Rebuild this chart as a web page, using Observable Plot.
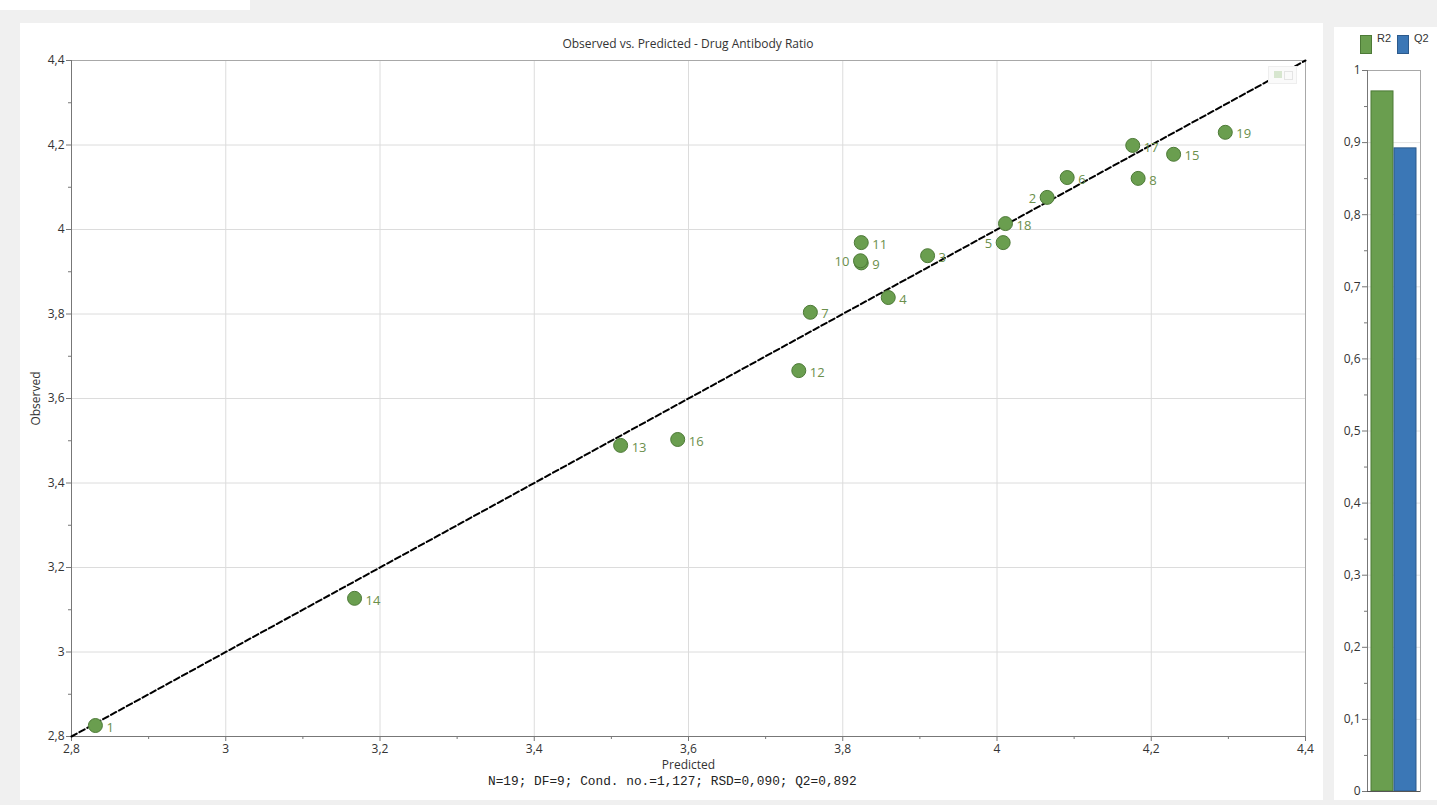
<!DOCTYPE html>
<html><head><meta charset="utf-8">
<script src="https://cdn.jsdelivr.net/npm/d3@7"></script>
<script src="https://cdn.jsdelivr.net/npm/@observablehq/plot@0.6"></script>
<style>
body{margin:0;background:#f0f0f0;width:1437px;height:805px;position:relative;overflow:hidden;font-family:"Open Sans",sans-serif;}
#topstrip{position:absolute;left:0;top:0;width:250px;height:10px;background:#fff}
#left{position:absolute;left:20px;top:23px;width:1303px;height:777px;background:#fff}
#right{position:absolute;left:1334px;top:27px;width:103px;height:773px;background:#fff}
#title{position:absolute;left:51px;width:1234px;top:13px;text-align:center;font-size:12px;color:#333;line-height:16px}
#main{position:absolute;left:0;top:24px}
#caption{position:absolute;left:468px;top:752px;font-family:"Liberation Mono",monospace;font-size:12.8px;color:#222;line-height:14px;white-space:pre}
#icon{position:absolute;left:1248px;top:43px;width:27px;height:16px;border:1px solid #eee;background:#fafafa}
#icon i{position:absolute;left:5px;top:4px;width:8px;height:7px;background:#d7e6cf}
#icon b{position:absolute;left:15px;top:4px;width:7px;height:7px;border:1px solid #e4e4e4}
#legend{position:absolute;top:8px;left:0;width:103px;height:20px;font-size:11px;color:#333}
.sw{position:absolute;top:0;width:10px;height:17px;border:1px solid}
.lt{position:absolute;top:-3px;font-family:"Liberation Sans",sans-serif}
#bars{position:absolute;left:0;top:33px}
</style></head>
<body>
<div id="topstrip"></div>
<div id="left">
  <div id="title"></div>
  <div id="main"></div>
  <div id="icon"><i></i><b></b></div>
  <div id="caption"></div>
</div>
<div id="right">
  <div id="legend"></div>
  <div id="bars"></div>
</div>
<script>
// ---- data ----
const obsNum    = [1, 2, 3, 4, 5, 6, 7, 8, 9, 10, 11, 12, 13, 14, 15, 16, 17, 18, 19];
const predicted = [2.831, 4.065, 3.910, 3.859, 4.008, 4.091, 3.758, 4.183, 3.824, 3.823, 3.824, 3.743, 3.512, 3.167, 4.229, 3.586, 4.176, 4.011, 4.296];
const observed  = [2.826, 4.076, 3.938, 3.839, 3.969, 4.123, 3.804, 4.121, 3.921, 3.926, 3.969, 3.666, 3.489, 3.127, 4.178, 3.503, 4.199, 4.014, 4.230];
const leftLabelObs = [2, 5, 10];
const refLine = [2.8, 4.4];
const xTicks = [2.8, 3, 3.2, 3.4, 3.6, 3.8, 4, 4.2, 4.4];
const xMinor = [2.9, 3.1, 3.3, 3.5, 3.7, 3.9, 4.1, 4.3];
const yTicks = [2.8, 3, 3.2, 3.4, 3.6, 3.8, 4, 4.2, 4.4];
const yMinor = [2.9, 3.1, 3.3, 3.5, 3.7, 3.9, 4.1, 4.3];
const statNames  = ["R2", "Q2"];
const statValues = [0.971, 0.892];
const statTicks = [0, 0.1, 0.2, 0.3, 0.4, 0.5, 0.6, 0.7, 0.8, 0.9, 1];
const statMinor = [0.05, 0.15, 0.25, 0.35, 0.45, 0.55, 0.65, 0.75, 0.85, 0.95];
const titleText = "Observed vs. Predicted - Drug Antibody Ratio";
const xLabel = "Predicted";
const yLabel = "Observed";
const captionText = "N=19; DF=9; Cond. no.=1,127; RSD=0,090; Q2=0,892";

// ---- colours ----
const green = "#6a9e4f", greenDark = "#4d7a37", labelGreen = "#6b8f4c";
const blue = "#3b77b6", blueDark = "#2c5a8c";
const comma = d => String(d).replace(".", ",");

document.getElementById("title").textContent = titleText;
document.getElementById("caption").textContent = captionText;

const pts = obsNum.map((n, i) => ({n, x: predicted[i], y: observed[i], left: leftLabelObs.includes(n)}));
const line = refLine.map(v => ({x: v, y: v}));

const main = Plot.plot({
  width: 1303, height: 731,
  marginTop: 13, marginBottom: 42, marginLeft: 51, marginRight: 18,
  style: {fontFamily: "Open Sans, sans-serif", fontSize: "12px", color: "#333", background: "transparent"},
  x: {domain: [2.8, 4.4]},
  y: {domain: [2.8, 4.4]},
  marks: [
    Plot.gridX(xTicks, {stroke: "#dcdcdc", strokeOpacity: 1}),
    Plot.gridY(yTicks, {stroke: "#dcdcdc", strokeOpacity: 1}),
    Plot.frame({stroke: "#a8a8a8"}),
    Plot.axisX(xMinor, {tickSize: 3, text: null, stroke: "#777", label: null}),
    Plot.axisY(yMinor, {tickSize: 3, text: null, stroke: "#777", label: null}),
    Plot.axisX(xTicks, {tickSize: 5, tickPadding: 3, tickFormat: comma, stroke: "#777", fill: "#333",
      label: xLabel, labelAnchor: "center", labelArrow: "none", labelOffset: 32}),
    Plot.axisY(yTicks, {tickSize: 5, tickPadding: 2, tickFormat: comma, stroke: "#777", fill: "#333",
      label: yLabel, labelAnchor: "center", labelArrow: "none", labelOffset: 40}),
    Plot.ruleX([2.8], {stroke: "#777"}),
    Plot.ruleY([2.8], {stroke: "#777"}),
    Plot.line(line, {x: "x", y: "y", stroke: "#000", strokeWidth: 2, strokeDasharray: "6,3"}),
    Plot.dot(pts, {x: "x", y: "y", r: 7, fill: green, stroke: greenDark, strokeWidth: 1}),
    Plot.text(pts.filter(d => !d.left), {x: "x", y: "y", text: "n", dx: 11, dy: 2, textAnchor: "start", fill: labelGreen, fontSize: 13}),
    Plot.text(pts.filter(d => d.left), {x: "x", y: "y", text: "n", dx: -11, dy: 1, textAnchor: "end", fill: labelGreen, fontSize: 13})
  ]
});
document.getElementById("main").appendChild(main);

// legend
const legend = document.getElementById("legend");
const legColors = [[green, greenDark], [blue, blueDark]];
statNames.forEach((name, i) => {
  const sw = document.createElement("div");
  sw.className = "sw";
  sw.style.left = (26 + i * 37) + "px";
  sw.style.background = legColors[i][0];
  sw.style.borderColor = legColors[i][1];
  legend.appendChild(sw);
  const t = document.createElement("div");
  t.className = "lt";
  t.style.left = (43 + i * 37) + "px";
  t.textContent = name;
  legend.appendChild(t);
});

const stats = statNames.map((s, i) => ({s, v: statValues[i]}));
const bars = Plot.plot({
  width: 103, height: 740,
  marginTop: 10, marginBottom: 9, marginLeft: 33, marginRight: 17,
  style: {fontFamily: "Open Sans, sans-serif", fontSize: "12px", color: "#333", background: "transparent"},
  x: {domain: statNames, paddingInner: 0.04, paddingOuter: 0.125, axis: null},
  y: {domain: [0, 1]},
  color: {domain: statNames, range: [green, blue]},
  marks: [
    Plot.gridY(statTicks, {stroke: "#e4e4e4", strokeOpacity: 1}),
    Plot.frame({stroke: "#a8a8a8"}),
    Plot.frame({anchor: "left", stroke: "#777"}),
    Plot.axisY(statMinor, {tickSize: 3, text: null, stroke: "#777", label: null}),
    Plot.axisY(statTicks, {tickSize: 5, tickPadding: 2, tickFormat: comma, stroke: "#777", fill: "#333", label: null}),
    Plot.barY(stats, {x: "s", y: "v", fill: "s", stroke: (d) => d.s === "R2" ? greenDark : blueDark, strokeWidth: 1}),
    Plot.ruleY([0], {stroke: "#555"})
  ]
});
document.getElementById("bars").appendChild(bars);
</script>
</body></html>
